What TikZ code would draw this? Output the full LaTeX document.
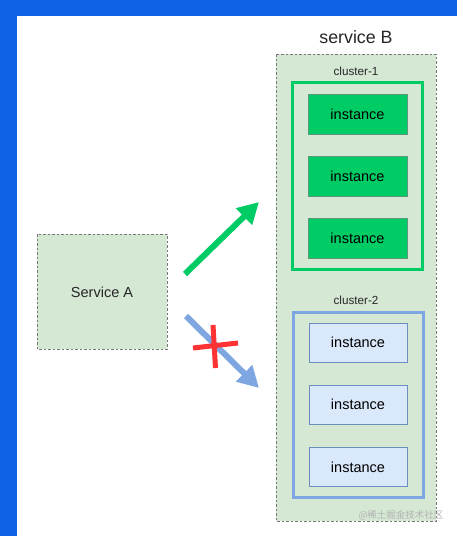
\documentclass[tikz,border=0pt]{standalone}
\usepackage{fontspec}
\setmainfont{Liberation Sans}
\newfontfamily\cjkfont{Noto Sans CJK SC}
\usetikzlibrary{arrows.meta}
\definecolor{frameblue}{HTML}{0F62E6}
\definecolor{svcfill}{HTML}{D5E8D4}
\definecolor{dashgray}{HTML}{777777}
\definecolor{gfill}{HTML}{00CC66}
\definecolor{gstroke}{HTML}{00CC66}
\definecolor{ginst}{HTML}{4DA07A}
\definecolor{bfill}{HTML}{DAE8FC}
\definecolor{bstroke}{HTML}{6C8EBF}
\definecolor{bclus}{HTML}{7EA6E0}
\definecolor{xred}{HTML}{FF3333}
\tikzset{
  px/.style={x=1pt,y=-1pt},
  svcbox/.style={draw=dashgray, fill=svcfill, dash pattern=on 2.5pt off 2pt, line width=0.8pt},
  ginstance/.style={draw=ginst!70!gray, fill=gfill, line width=0.8pt},
  binstance/.style={draw=bstroke, fill=bfill, line width=0.8pt},
  lbl/.style={inner sep=0pt, text=black!85},
  bigarrow/.style={line width=6pt, -{Triangle[length=21pt,width=22pt]}},
}
\begin{document}
\begin{tikzpicture}[px]
\useasboundingbox (0,0) rectangle (457,536);
\fill[white] (0,0) rectangle (457,536);
% frame
\fill[frameblue] (0,0) rectangle (457,16);
\fill[frameblue] (0,0) rectangle (17,536);
% Service A
\draw[svcbox] (37,234) rectangle (167,349);
\node[lbl, font=\fontsize{14.5}{17}\selectfont] (sa) at (102,292) {Service A};
% Service B
\draw[svcbox] (276,54) rectangle (436,521);
\node[lbl, font=\fontsize{17.8}{20}\selectfont] (sb) at (356,37) {service B};
% cluster-1
\node[lbl, font=\fontsize{11.7}{14}\selectfont] (c1) at (356,71) {cluster-1};
\draw[draw=gstroke, line width=3pt] (292.5,82.5) rectangle (422.5,269);
\node[ginstance, minimum width=99pt, minimum height=40pt, inner sep=0pt, font=\fontsize{14.5}{17}\selectfont] (g1) at (357.5,114) {instance};
\node[ginstance, minimum width=99pt, minimum height=40pt, inner sep=0pt, font=\fontsize{14.5}{17}\selectfont] (g2) at (357.5,176) {instance};
\node[ginstance, minimum width=99pt, minimum height=40pt, inner sep=0pt, font=\fontsize{14.5}{17}\selectfont] (g3) at (357.5,238) {instance};
% cluster-2
\node[lbl, font=\fontsize{11.7}{14}\selectfont] (c2) at (356,300) {cluster-2};
\draw[draw=bclus, line width=3pt] (293.5,312.5) rectangle (423.5,497.5);
\node[binstance, minimum width=98pt, minimum height=39pt, inner sep=0pt, font=\fontsize{14.5}{17}\selectfont] (b1) at (358,342.5) {instance};
\node[binstance, minimum width=98pt, minimum height=39pt, inner sep=0pt, font=\fontsize{14.5}{17}\selectfont] (b2) at (358,404.5) {instance};
\node[binstance, minimum width=98pt, minimum height=39pt, inner sep=0pt, font=\fontsize{14.5}{17}\selectfont] (b3) at (358,467) {instance};
% arrows
\coordinate (gs) at (185,274);
\coordinate (ge) at (259,202);
\coordinate (bs) at (186,316);
\coordinate (be) at (259,388);
\draw[bigarrow, draw=gfill, fill=gfill] (gs) -- (ge);
\draw[bigarrow, draw=bclus, fill=bclus] (bs) -- (be);
% red cross
\coordinate (x1) at (193,348);
\coordinate (x2) at (238,343);
\coordinate (x3) at (213,325);
\coordinate (x4) at (215.5,368);
\draw[xred, line width=5pt] (x1) -- (x2);
\draw[xred, line width=5pt] (x3) -- (x4);
% watermark
\node[inner sep=0pt, text=black!30, font=\cjkfont\fontsize{9.5}{11}\selectfont] (wm) at (401,515) {@稀土掘金技术社区};
\end{tikzpicture}
\end{document}
